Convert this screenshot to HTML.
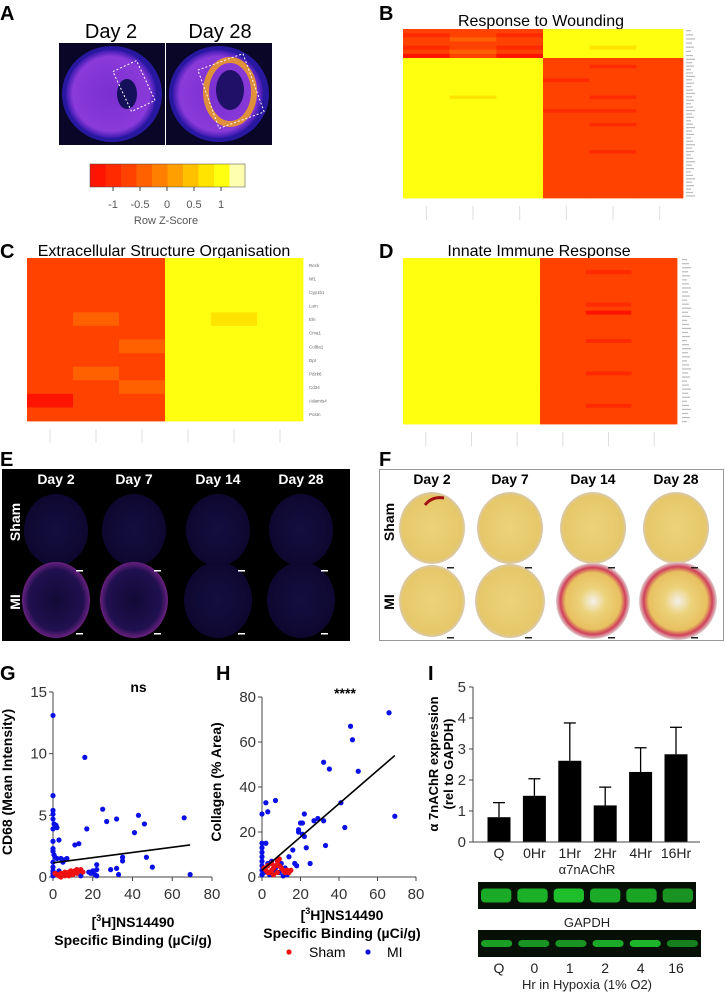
<!DOCTYPE html>
<html><head><meta charset="utf-8"><style>
body{margin:0;background:#fff;}
svg{display:block;font-family:"Liberation Sans",sans-serif;}
</style></head><body>
<svg id="fig" width="725" height="992" viewBox="0 0 725 992" xmlns="http://www.w3.org/2000/svg">
<defs>
<radialGradient id="gA1" cx="50%" cy="50%" r="50%"><stop offset="0" stop-color="#7a2fd0"/><stop offset="0.85" stop-color="#8a3ad8"/><stop offset="1" stop-color="#3a1ab0"/></radialGradient>
<radialGradient id="gE" cx="50%" cy="50%" r="50%"><stop offset="0" stop-color="#140e40"/><stop offset="1" stop-color="#0e0830"/></radialGradient>
<radialGradient id="gEm" cx="50%" cy="50%" r="50%"><stop offset="0" stop-color="#120a36"/><stop offset="0.8" stop-color="#201050"/><stop offset="1" stop-color="#6a2080"/></radialGradient>
<radialGradient id="gF" cx="50%" cy="50%" r="50%"><stop offset="0" stop-color="#ecd27a"/><stop offset="0.9" stop-color="#e6c86a"/><stop offset="1" stop-color="#d8c8b0"/></radialGradient>
<radialGradient id="gFm" cx="50%" cy="50%" r="50%"><stop offset="0" stop-color="#f4f0ea"/><stop offset="0.35" stop-color="#ecd27a"/><stop offset="0.75" stop-color="#e8c060"/><stop offset="0.88" stop-color="#d0405a"/><stop offset="1" stop-color="#e0d0d0"/></radialGradient>
</defs>

<!-- Panel A -->
<text x="0" y="20" font-size="20" font-weight="bold">A</text>
<text x="111" y="38" font-size="20" text-anchor="middle">Day 2</text>
<text x="220" y="38" font-size="20" text-anchor="middle">Day 28</text>
<g>
<rect x="59" y="43" width="106" height="102" fill="#0a0628"/>
<ellipse cx="112" cy="94" rx="50" ry="48" fill="#2818a0"/>
<ellipse cx="111" cy="94" rx="45" ry="44" fill="url(#gA1)"/>
<ellipse cx="127" cy="94" rx="10" ry="15" fill="#15105a"/>
<rect x="121" y="64" width="26" height="44" fill="none" stroke="#fff" stroke-dasharray="2,2" transform="rotate(-25 134 86)"/>
</g>
<g>
<rect x="166" y="43" width="106" height="102" fill="#0a0628"/>
<ellipse cx="219" cy="94" rx="50" ry="48" fill="#2818a0"/>
<ellipse cx="218" cy="94" rx="45" ry="44" fill="url(#gA1)"/>
<ellipse cx="230" cy="92" rx="24" ry="32" fill="none" stroke="#f0a020" stroke-width="6" opacity="0.85"/>
<ellipse cx="230" cy="90" rx="14" ry="20" fill="#201068"/>
<rect x="207" y="60" width="48" height="62" fill="none" stroke="#fff" stroke-dasharray="2,2" transform="rotate(-20 231 91)"/>
</g>
<g id="colorbar"></g>
<text x="166" y="224" font-size="11" fill="#555" text-anchor="middle">Row Z-Score</text>

<!-- Panel B -->
<text x="379" y="20" font-size="20" font-weight="bold">B</text>
<text x="541" y="26" font-size="16" text-anchor="middle">Response to Wounding</text>
<g id="hmB"></g>

<!-- Panel C -->
<text x="0" y="258" font-size="20" font-weight="bold">C</text>
<text x="164" y="256" font-size="16" text-anchor="middle">Extracellular Structure Organisation</text>
<g id="hmC"></g>

<!-- Panel D -->
<text x="379" y="258" font-size="20" font-weight="bold">D</text>
<text x="539" y="256" font-size="16" text-anchor="middle">Innate Immune Response</text>
<g id="hmD"></g>

<!-- Panel E -->
<text x="0" y="466" font-size="20" font-weight="bold">E</text>
<g id="panelE">
<rect x="2" y="469" width="348" height="172" fill="#000"/>
</g>

<!-- Panel F -->
<text x="379" y="466" font-size="20" font-weight="bold">F</text>
<g id="panelF">
<rect x="379.5" y="469.5" width="344" height="171" fill="#fff" stroke="#999"/>
</g>

<!-- Panel G,H,I -->
<text x="0" y="680" font-size="20" font-weight="bold">G</text>
<text x="216" y="680" font-size="20" font-weight="bold">H</text>
<text x="428" y="680" font-size="20" font-weight="bold">I</text>
<g id="chartG"></g>
<g id="chartH"></g>
<g id="chartI"></g>
<g id="blots"></g>
</svg>
<script>
// ---------- data ----------
const ckTicks = [-1, -0.5, 0, 0.5, 1];
const hmBTop = ["222888","121888","232888","222888","121878","232888","020888"];
const hmBBottom = ["888222","888222","888212","888222","888222","888222","888122","888222","888222","888222","888222","878212","888222","888222",
"888222","888112","888222","888222","888222","888212","888222","888222","888222","888222","888222","888222","888222","888212",
"888222","888222","888222","888222","888222","888222","888222","888222","888222","888222","888222","888222","888222"];
const hmC = ["222888","222888","222888","222888","232878","222888","223888","222888","232888","223888","022888","222888"];
const hmD = ["888222","888222","888222","888212","888222","888222","888222","888222","888222","888222","888222","888212","888222","888202",
"888222","888222","888222","888222","888222","888222","888212","888222","888222","888222","888222","888222","888222","888222",
"888212","888222","888222","888222","888222","888222","888222","888222","888212","888222","888222","888222","888222"];
const heatColors = ["#ff1400","#ff2a00","#ff4200","#ff6000","#ff8000","#ffa000","#ffc000","#ffe400","#ffff10","#ffffb0"];

const gTicksX = [0,20,40,60,80];
const gTicksY = [0,5,10,15];
const gMI = [[0,13.1],[0,6.6],[0,5.4],[0,5.1],[0,4.7],[0.5,4.3],[1.5,4.2],[2,4.0],[0,3.9],[0,2.9],[0,2.3],[0,2.1],[0.5,1.8],[1,1.6],[2,1.5],[0,1.2],[0,0.8],[0,0.5],[0,0.3],[0,0.1],[3,3.0],[4,1.5],[5,1.2],[6,1.4],[7,1.5],[11,2.6],[13,2.7],[16,9.7],[17,3.9],[25,5.5],[27,4.5],[32,4.7],[43,5.0],[46,4.3],[41,3.6],[66,4.8],[35,1.6],[35,1.3],[47,1.6],[50,0.8],[29,0.6],[32,0.7],[33,0.2],[69,0.2],[22,1.0],[22,0.6],[20,0.5],[19,0.3],[21,0.2],[18,0.4],[15,0.4],[12,0.6],[10,0.3],[8,0.2],[6,0.3],[4,0.2],[3,0.5],[14,0.1],[22,0.1]];
const gSham = [[2,0.2],[3,0.1],[4,0.3],[5,0.2],[6,0.4],[7,0.3],[8,0.4],[9,0.5],[10,0.4],[11,0.5],[12,0.6],[13,0.5],[14,0.6],[15,0.4],[4,0.0],[6,0.1],[8,0.1],[10,0.2],[12,0.3],[1,0.3]];
const gFit = [[0,1.15],[69,2.6]];

const hTicksX = [0,20,40,60,80];
const hTicksY = [0,20,40,60,80];
const hMI = [[0,28],[2,33],[3,29],[7,34],[0,15],[2,15],[0,13],[0,11],[0,9],[0,7],[0,5],[0,3],[0,1],[1,2],[3,6],[5,7],[7,4],[9,2],[11,0.5],[13,1],[14,9],[16,12],[17,6],[18,5],[19,21],[19,20],[20,24],[21,24],[21,19],[22,28],[22,18],[23,13],[25,6],[27,25],[29,26],[32,25],[33,14],[32,51],[35,48],[41,33],[43,22],[46,67],[47,61],[50,47],[66,73],[69,27],[10,6],[12,4],[6,3],[4,1]];
const hSham = [[1,4],[2,3],[3,5],[4,2],[5,6],[6,4],[7,5],[8,7],[9,8],[10,4],[11,3],[12,2],[13,3],[14,2],[15,3],[6,1],[8,2],[3,2],[5,3],[9,5]];
const hFit = [[0,3],[69,54]];

const iCats = ["Q","0Hr","1Hr","2Hr","4Hr","16Hr"];
const iMeans = [0.80,1.49,2.62,1.18,2.26,2.83];
const iErrTop = [1.27,2.04,3.84,1.77,3.04,3.70];
const iTicks = [0,1,2,3,4,5];
const blotLanes = ["Q","0","1","2","4","16"];
const blotA7 = [0.8,0.85,1.0,0.8,0.75,0.6];
const blotGapdh = [0.7,0.6,0.6,0.8,0.9,0.4];

// ---------- helpers ----------
const NS="http://www.w3.org/2000/svg";
function mk(parent, tag, attrs, text){const e=document.createElementNS(NS,tag);for(const k in attrs)e.setAttribute(k,attrs[k]);if(text!==undefined)e.textContent=text;parent.appendChild(e);return e;}
function $(id){return document.getElementById(id);}

// color key
(function(){
  const g=$("colorbar"); const x0=90,x1=245,y0=164,y1=187;
  const n=20;
  for(let i=0;i<n;i++){
    const t=i/(n-1);
    const lvl=Math.min(9,Math.round(t*9));
    const r=mk(g,"rect",{x:x0+(x1-x0)*i/n,y:y0,width:(x1-x0)/n+0.5,height:y1-y0,fill:heatColors[lvl]});
    
    
  }
  mk(g,"rect",{x:x0,y:y0,width:x1-x0,height:y1-y0,fill:"none",stroke:"#444","stroke-width":0.5});
  const sx=v=>167+v*54;
  ckTicks.forEach(v=>{
    mk(g,"line",{x1:sx(v),x2:sx(v),y1:y1,y2:y1+4,stroke:"#444"});
    const t=mk(g,"text",{x:sx(v),y:208,"font-size":11,fill:"#555","text-anchor":"middle"},String(v));
    
    
  });
})();

// heatmaps
function heatmap(gid, rows, x0,x1,y0,y1, labelX, rowHeights){
  const g=$(gid); const cw=(x1-x0)/6;
  let y=y0;
  rows.forEach((row,ri)=>{
    const h=rowHeights[ri];
    for(let c=0;c<6;c++){
      const r=mk(g,"rect",{x:x0+c*cw,y:y,width:cw+0.4,height:h+0.4,fill:heatColors[+row[c]]});
      
      
    }
    y+=h;
  });
  if(rows.length>20){
    for(let i=0;i<rows.length;i++){
      const yy=y0+rowHeights.slice(0,i).reduce((a,b)=>a+b,0)+rowHeights[i]/2+1.5;
      mk(g,"rect",{x:labelX,y:yy-2.5,width:5+((i*7)%5),height:1.2,fill:"#bbb"});
    }
  }
  for(let c=0;c<6;c++){
    mk(g,"rect",{x:x0+c*cw+cw/2-0.5,y:y1+8,width:1,height:14,fill:"#ddd"});
  }
}
(function(){
  const topH=29/hmBTop.length, botH=140/hmBBottom.length;
  heatmap("hmB",hmBTop.concat(hmBBottom),403,683,29,198,686,hmBTop.map(()=>topH).concat(hmBBottom.map(()=>botH)));
  heatmap("hmC",hmC,27,303,258,421,309,hmC.map(()=>163/hmC.length));
  const cg=["Reck","Nf1","Cyp1b1","Lum","Eln","Cma1","Col8a1","Dpt","Pdzk6","Cd34","Adamts4","Postn"];
  cg.forEach((n,i)=>{const t=mk($("hmC"),"text",{x:309,y:258+(i+0.5)*163/12+2,"font-size":4.5,fill:"#666"},n);
    
    });
  heatmap("hmD",hmD,403,677,258,424,682,hmD.map(()=>166/hmD.length));
})();

// panel E
(function(){
  const g=$("panelE");
  const days=["Day 2","Day 7","Day 14","Day 28"], cx=[56,134,218,301];
  days.forEach((d,i)=>{
    const t=mk(g,"text",{x:cx[i],y:484,"font-size":14,"font-weight":"bold",fill:"#fff","text-anchor":"middle"},d);
    
    
    mk(g,"ellipse",{cx:cx[i],cy:530,rx:32,ry:36,fill:"url(#gE)"});
    mk(g,"ellipse",{cx:cx[i],cy:600,rx:34,ry:38,fill:i<2?"url(#gEm)":"url(#gE)"});
    mk(g,"rect",{x:cx[i]+20,y:570,width:7,height:1.5,fill:"#fff"});
    mk(g,"rect",{x:cx[i]+20,y:633,width:7,height:1.5,fill:"#fff"});
  });
  mk(g,"text",{x:20,y:522,"font-size":14,"font-weight":"bold",fill:"#fff","text-anchor":"middle",transform:"rotate(-90 20 522)"},"Sham");
  mk(g,"text",{x:20,y:602,"font-size":14,"font-weight":"bold",fill:"#fff","text-anchor":"middle",transform:"rotate(-90 20 602)"},"MI");
})();
// panel F
(function(){
  const g=$("panelF");
  const days=["Day 2","Day 7","Day 14","Day 28"], cx=[432,510,593,676];
  days.forEach((d,i)=>{
    const t=mk(g,"text",{x:cx[i],y:484,"font-size":14,"font-weight":"bold",fill:"#000","text-anchor":"middle"},d);
    
    
    mk(g,"ellipse",{cx:cx[i],cy:528,rx:33,ry:36,fill:"url(#gF)"});
    mk(g,"ellipse",{cx:cx[i]+(i==3?2:0),cy:601,rx:33+i*2,ry:36+i,fill:i>=2?"url(#gFm)":"url(#gF)"});
    mk(g,"rect",{x:cx[i]+15,y:567,width:7,height:1.5,fill:"#222"});
    mk(g,"rect",{x:cx[i]+15,y:637,width:7,height:1.5,fill:"#222"});
  });
  mk(g,"path",{d:"M425 505 Q432 496 444 498",stroke:"#a01010","stroke-width":3,fill:"none"});
  mk(g,"text",{x:394,y:522,"font-size":14,"font-weight":"bold",fill:"#000","text-anchor":"middle",transform:"rotate(-90 394 522)"},"Sham");
  mk(g,"text",{x:394,y:602,"font-size":14,"font-weight":"bold",fill:"#000","text-anchor":"middle",transform:"rotate(-90 394 602)"},"MI");
})();

// scatter charts
function scatter(gid, px0,px1,py0,py1, xmax,ymax, ticksX,ticksY, mi, sham, fit, ylab, sig, sigY){
  const g=$(gid);
  const sx=v=>px0+(px1-px0)*v/xmax, sy=v=>py0-(py0-py1)*v/ymax;
  mk(g,"line",{x1:px0,x2:px0,y1:py0,y2:py1,stroke:"#444","stroke-width":1});
  mk(g,"line",{x1:px0,x2:px1,y1:py0,y2:py0,stroke:"#444","stroke-width":1});
  ticksX.forEach(v=>{mk(g,"line",{x1:sx(v),x2:sx(v),y1:py0,y2:py0+4,stroke:"#444"});
    const t=mk(g,"text",{x:sx(v),y:py0+22,"font-size":15,fill:"#333","text-anchor":"middle"},String(v));
    
    });
  ticksY.forEach(v=>{mk(g,"line",{x1:px0-4,x2:px0,y1:sy(v),y2:sy(v),stroke:"#444"});
    const t=mk(g,"text",{x:px0-6,y:sy(v)+5,"font-size":15,fill:"#333","text-anchor":"end"},String(v));
    
    });
  mi.forEach(p=>{const c=mk(g,"circle",{cx:sx(p[0]),cy:sy(p[1]),r:2.6,fill:"#0a10e6"});
    
    });
  sham.forEach(p=>{const c=mk(g,"circle",{cx:sx(p[0]),cy:sy(p[1]),r:2.6,fill:"#ee1111"});
    
    });
  const l=mk(g,"line",{x1:sx(fit[0][0]),y1:sy(fit[0][1]),x2:sx(fit[1][0]),y2:sy(fit[1][1]),stroke:"#000","stroke-width":1.6});
  
  
  const yl=(px0-41);
  const t=mk(g,"text",{x:yl,y:782,"font-size":14,"font-weight":"bold","text-anchor":"middle",transform:`rotate(-90 ${yl} 782)`},ylab);
  
  
  const s=mk(g,"text",{x:(px0+px1)/2+6,y:sigY,"font-size":14,"font-weight":"bold","text-anchor":"middle"},sig);
  
  
}
scatter("chartG",53,212,877,692,80,15,gTicksX,gTicksY,gMI,gSham,gFit,"CD68 (Mean Intensity)","ns",692);
scatter("chartH",262,416,877,697,80,80,hTicksX,hTicksY,hMI,hSham,hFit,"Collagen (% Area)","****",698);
(function(){
  const g=$("chartG");
  mk(g,"text",{x:133,y:927,"font-size":14,"font-weight":"bold","text-anchor":"middle"}).innerHTML='[<tspan font-size="9" dy="-6">3</tspan><tspan dy="6">H]NS14490</tspan>';
  mk(g,"text",{x:133,y:945,"font-size":14,"font-weight":"bold","text-anchor":"middle"},"Specific Binding (µCi/g)");
  const h=$("chartH");
  mk(h,"text",{x:342,y:920,"font-size":14,"font-weight":"bold","text-anchor":"middle"}).innerHTML='[<tspan font-size="9" dy="-6">3</tspan><tspan dy="6">H]NS14490</tspan>';
  mk(h,"text",{x:342,y:938,"font-size":14,"font-weight":"bold","text-anchor":"middle"},"Specific Binding (µCi/g)");
  const lg=mk(h,"g",{});
  
  
  mk(lg,"circle",{cx:289,cy:952,r:2.6,fill:"#ee1111"});
  mk(lg,"text",{x:309,y:957,"font-size":14},"Sham");
  mk(lg,"circle",{cx:368,cy:952,r:2.6,fill:"#0a10e6"});
  mk(lg,"text",{x:387,y:957,"font-size":14},"MI");
})();

// bar chart I
(function(){
  const g=$("chartI");
  const px0=473, px1=700, py0=842, py1=687, ymax=5;
  const sy=v=>py0-(py0-py1)*v/ymax;
  const step=35.4, first=499, bw=23;
  iCats.forEach((c,i)=>{
    const cx=first+i*step;
    const e=mk(g,"line",{x1:cx,x2:cx,y1:sy(iMeans[i]),y2:sy(iErrTop[i]),stroke:"#000","stroke-width":1.3});
    
    
    mk(g,"line",{x1:cx-6,x2:cx+6,y1:sy(iErrTop[i]),y2:sy(iErrTop[i]),stroke:"#000","stroke-width":1.3});
    const b=mk(g,"rect",{x:cx-bw/2,y:sy(iMeans[i]),width:bw,height:py0-sy(iMeans[i]),fill:"#000"});
    
    
    const t=mk(g,"text",{x:cx,y:858,"font-size":14,fill:"#222","text-anchor":"middle"},c);
    
    
  });
  mk(g,"line",{x1:px0,x2:px0,y1:py0,y2:py1,stroke:"#444"});
  mk(g,"line",{x1:px0,x2:px1,y1:py0,y2:py0,stroke:"#444"});
  iTicks.forEach(v=>{mk(g,"line",{x1:px0-4,x2:px0,y1:sy(v),y2:sy(v),stroke:"#444"});
    const t=mk(g,"text",{x:px0-7,y:sy(v)+5,"font-size":15,fill:"#333","text-anchor":"end"},String(v));
    
    });
  const a=mk(g,"text",{x:438,y:764,"font-size":13,"font-weight":"bold","text-anchor":"middle",transform:"rotate(-90 438 764)"},"α 7nAChR expression");
  
  
  mk(g,"text",{x:453,y:764,"font-size":13,"font-weight":"bold","text-anchor":"middle",transform:"rotate(-90 453 764)"},"(rel to GAPDH)");
})();
(function(){
  const g=$("blots");
  mk(g,"text",{x:587,y:874,"font-size":13,fill:"#222","text-anchor":"middle"},"α7nAChR");
  mk(g,"text",{x:587,y:927,"font-size":13,fill:"#222","text-anchor":"middle"},"GAPDH");
  function blot(y,h,x0,x1,vals,thick){
    mk(g,"rect",{x:x0,y:y,width:x1-x0,height:h,fill:"#061006"});
    const lw=(x1-x0)/6;
    vals.forEach((v,i)=>{
      const band=mk(g,"rect",{x:x0+i*lw+3,y:y+h/2-thick/2,width:lw-6,height:thick,rx:4,fill:"#1fbf2c",opacity:0.4+0.6*v});
      
      
    });
  }
  blot(882,27,478,696,blotA7,14);
  blot(930,27,478,701,blotGapdh,7);
  blotLanes.forEach((l,i)=>{
    const t=mk(g,"text",{x:499+i*35.4,y:973,"font-size":14,fill:"#222","text-anchor":"middle"},l);
    
    
  });
  mk(g,"text",{x:587,y:989,"font-size":13,fill:"#222","text-anchor":"middle"},"Hr in Hypoxia (1% O2)");
})();
</script>
</body></html>
